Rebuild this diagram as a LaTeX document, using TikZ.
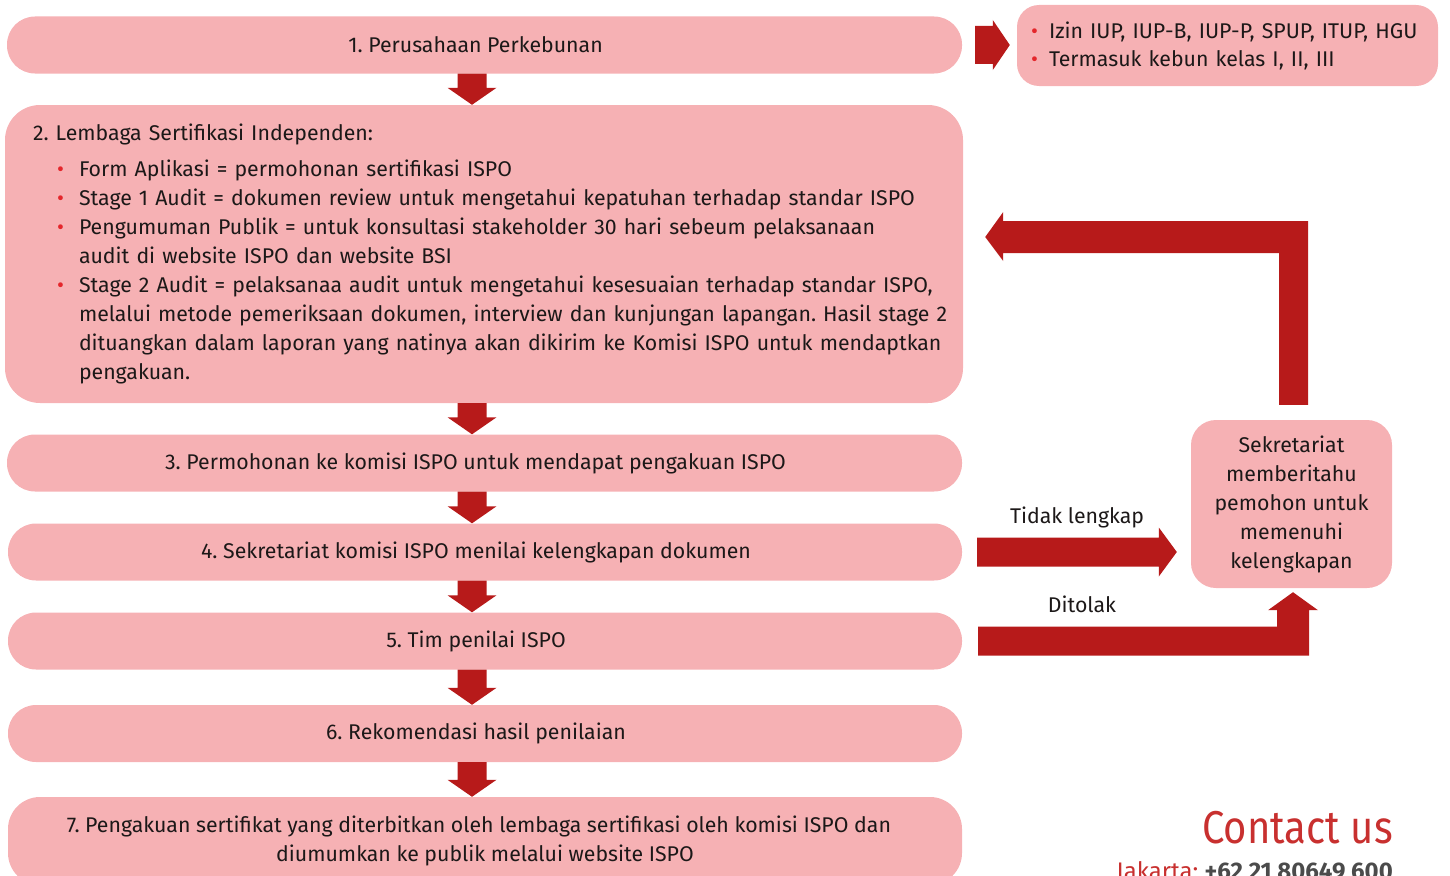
\documentclass[tikz,border=0pt]{standalone}
\usepackage{fontspec}
\setmainfont{Fira Sans}
\usetikzlibrary{calc}
\definecolor{BoxClr}{RGB}{246,177,180}
\definecolor{ArrowClr}{RGB}{183,26,26}
\definecolor{DotClr}{RGB}{228,38,43}
\definecolor{TextClr}{RGB}{28,24,24}
\definecolor{ContactClr}{RGB}{200,48,47}
\definecolor{PhoneClr}{RGB}{75,75,75}

% bullet line with hanging indent
\newcommand{\dotline}[2]{\par\hangindent=#1\hangafter=1\noindent
  \makebox[#1][l]{\hspace*{#2}\textcolor{DotClr}{\textbullet}}}

% fat block arrow pointing down
\newcommand{\fatdown}[2]{%
  \fill[ArrowClr] let \p1=(#1), \p2=(#2) in
    (\x1-14.5pt,\y1) -- (\x1+14.5pt,\y1) -- (\x1+14.5pt,\y2+17pt) -- (\x1+24.5pt,\y2+17pt)
    -- (\x1,\y2) -- (\x1-24.5pt,\y2+17pt) -- (\x1-14.5pt,\y2+17pt) -- cycle;}

\begin{document}
\frenchspacing
\begin{tikzpicture}[x=1pt,y=-1pt,
  stepbox/.style={fill=BoxClr,rounded corners=28pt,minimum width=955pt,minimum height=57pt,
    inner sep=0pt,align=center,text=TextClr},
  sidebox/.style={fill=BoxClr,rounded corners=22pt,inner sep=0pt,text=TextClr},
  lbl/.style={text=TextClr,inner sep=0pt}]
\useasboundingbox (0,0) rectangle (1450,875);
\fontsize{21.3}{29}\selectfont

\coordinate (col) at (472,0);

% process boxes
\node[stepbox] (b1) at (484.5,45) {\hspace*{-18pt}1. Perusahaan Perkebunan};
\node[stepbox,rounded corners=35pt,minimum width=958pt,minimum height=298pt,
  text width=944pt,align=left] (b2) at (484,254) {\leftskip=21pt
  2. Lembaga Sertifikasi Independen:\par\vspace{7pt}
  \dotline{46pt}{24pt}Form Aplikasi = permohonan sertifikasi ISPO
  \dotline{46pt}{24pt}Stage 1 Audit = dokumen review untuk mengetahui kepatuhan terhadap standar ISPO
  \dotline{46pt}{24pt}Pengumuman Publik = untuk konsultasi stakeholder 30 hari sebeum pelaksanaan\newline
    audit di website ISPO dan website BSI
  \dotline{46pt}{24pt}Stage 2 Audit = pelaksanaa audit untuk mengetahui kesesuaian terhadap standar ISPO,\newline
    melalui metode pemeriksaan dokumen, interview dan kunjungan lapangan. Hasil stage~2\newline
    dituangkan dalam laporan yang natinya akan dikirim ke Komisi ISPO untuk mendaptkan\newline
    pengakuan.\par};
\node[stepbox] (b3) at (484.5,463) {\hspace*{-18pt}3. Permohonan ke komisi ISPO untuk mendapat pengakuan ISPO};
\node[stepbox,minimum width=954pt] (b4) at (485,552) {\hspace*{-18pt}4. Sekretariat komisi ISPO menilai kelengkapan dokumen};
\node[stepbox,minimum width=954pt] (b5) at (485,641) {\hspace*{-18pt}5. Tim penilai ISPO};
\node[stepbox,minimum width=954pt] (b6) at (485,733.5) {\hspace*{-18pt}6. Rekomendasi hasil penilaian};
\node[stepbox,minimum width=954pt,minimum height=88pt,rounded corners=32pt] (b7) at (485,841)
  {\hspace*{-12pt}7. Pengakuan sertifikat yang diterbitkan oleh lembaga sertifikasi oleh komisi ISPO dan\\
   diumumkan ke publik melalui website ISPO};

% side boxes
\node[sidebox,minimum width=421pt,minimum height=81pt,text width=393pt,align=left] (info) at (1227.5,45.5) {%
  \vspace*{-11pt}\fontsize{21.3}{28}\selectfont
  \dotline{18pt}{0pt}Izin IUP, IUP-B, IUP-P, SPUP, ITUP, HGU
  \dotline{18pt}{0pt}Termasuk kebun kelas I, II, III\par};
\node[sidebox,rounded corners=25pt,minimum width=201pt,minimum height=168pt,align=center] (sek) at (1291.5,504)
  {Sekretariat\\ memberitahu\\ pemohon untuk\\ memenuhi\\ kelengkapan};

% down arrows
\fatdown{col |- b1.south}{col |- b2.north}
\fatdown{col |- b2.south}{col |- b3.north}
\fatdown{col |- b3.south}{col |- b4.north}
\fatdown{col |- b4.south}{col |- b5.north}
\fatdown{col |- b5.south}{col |- b6.north}
\fatdown{col |- b6.south}{col |- b7.north}

% side arrows
\fill[ArrowClr] let \p1=(b1.east), \p2=(info.west) in
  (\x1+13pt,\y1+19pt) -- (\x2-24pt,\y1+19pt) -- (\x2-24pt,\y1+25pt) -- (\x2-7pt,\y1)
  -- (\x2-24pt,\y1-25pt) -- (\x2-24pt,\y1-19pt) -- (\x1+13pt,\y1-19pt) -- cycle;
\fill[ArrowClr] let \p1=(b4.east), \p2=(sek.west) in
  (\x1+15pt,\y1+14.5pt) -- (\x2-32pt,\y1+14.5pt) -- (\x2-32pt,\y1+24.5pt) -- (\x2-14pt,\y1)
  -- (\x2-32pt,\y1-24.5pt) -- (\x2-32pt,\y1-14.5pt) -- (\x1+15pt,\y1-14.5pt) -- cycle;
\fill[ArrowClr] let \p1=(b5.east), \p2=(sek.south) in
  (\x1+16pt,\y1+14.5pt) -- (\x2-14.5pt,\y1+14.5pt) -- (\x2-14.5pt,\y2-22pt) -- (\x2-23.5pt,\y2-22pt)
  -- (\x2+1.5pt,\y2-4pt) -- (\x2+26.5pt,\y2-22pt) -- (\x2+17.5pt,\y2-22pt)
  -- (\x2+17.5pt,\y1-14.5pt) -- (\x1+16pt,\y1-14.5pt) -- cycle;
\fill[ArrowClr] let \p1=(sek.north), \p2=(b2.east) in
  (\x1+16.5pt,\y1+15pt) -- (\x1+16.5pt,\y2+33pt) -- (\x2+40pt,\y2+33pt) -- (\x2+40pt,\y2+42pt)
  -- (\x2+22pt,\y2+17pt) -- (\x2+40pt,\y2-7pt) -- (\x2+40pt,\y2+1pt)
  -- (\x1-12.5pt,\y2+1pt) -- (\x1-12.5pt,\y1+15pt) -- cycle;

\node[lbl] (tidak) at (1077,517) {Tidak lengkap};
\node[lbl] (tolak) at (1082,604) {Ditolak};

% contact
\node[anchor=base east,inner sep=0pt,text=ContactClr,font=\fontsize{46}{46}\selectfont] (contact)
  at (1393,843) {\scalebox{0.87}[1]{Contact us}};
\node[anchor=base east,inner sep=0pt,font=\fontsize{24}{24}\selectfont] (phone) at (1393,879)
  {\textcolor{ContactClr}{Jakarta:} \textcolor{PhoneClr}{\bfseries +62 21 80649 600}};
\end{tikzpicture}
\end{document}
